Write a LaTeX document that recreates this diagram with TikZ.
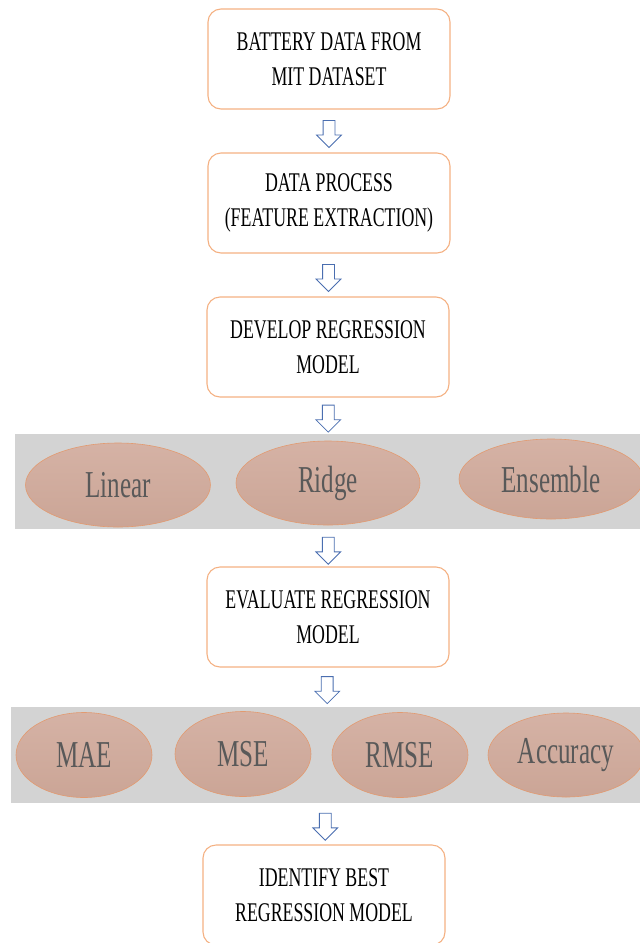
\documentclass[tikz,border=0pt]{standalone}
\usepackage{fontspec}
\setmainfont[FakeStretch=0.66]{Liberation Serif}
\usetikzlibrary{shapes.geometric,shapes.arrows}

\definecolor{boxline}{RGB}{244,177,131}
\definecolor{arrowline}{RGB}{74,110,176}
\definecolor{bandgray}{RGB}{211,211,211}
\definecolor{ovaltop}{RGB}{213,178,165}
\definecolor{ovalbot}{RGB}{203,165,150}
\definecolor{ovalline}{RGB}{226,154,112}
\definecolor{ovaltext}{RGB}{89,89,89}

\begin{document}
\begin{tikzpicture}[x=1pt,y=-1pt]
\tikzset{stepbox/.style = {shape=rectangle,draw=boxline,line width=1.1pt,rounded corners=13pt,minimum width=242pt,minimum height=100pt,align=center,font=\fontsize{27}{35}\selectfont}}
\tikzset{band/.style = {shape=rectangle,fill=bandgray,inner sep=0pt}}
\tikzset{oval/.style = {shape=ellipse,draw=ovalline,line width=0.6pt,top color=ovaltop,bottom color=ovalbot,inner sep=0pt,text=ovaltext,font=\fontsize{38}{40}\selectfont}}
\tikzset{flow/.style = {shape=single arrow,draw=arrowline,fill=white,line width=0.8pt,rotate=-90,minimum height=27pt,minimum width=24pt,inner sep=5.5pt,single arrow head extend=6.5pt,single arrow head indent=0pt}}
\useasboundingbox (0,0) rectangle (640,943);

% main steps
\node[stepbox] (data) at (329,59) {BATTERY DATA FROM\\MIT DATASET};
\node[stepbox] (proc) at (329,203) {DATA PROCESS\\(FEATURE EXTRACTION)};
\node[stepbox] (dev) at (328,347) {DEVELOP REGRESSION\\MODEL};
\node[stepbox] (eval) at (328,617) {EVALUATE REGRESSION\\MODEL};
\node[stepbox] (best) at (324,895) {IDENTIFY BEST\\REGRESSION MODEL};

% model choices
\node[band,minimum width=627pt,minimum height=95pt] (models) at (328.5,481.5) {};
\node[oval,minimum width=185pt,minimum height=84pt] (lin) at (118,485) {Linear};
\node[oval,minimum width=184pt,minimum height=84pt] (ridge) at (328,483) {Ridge};
\node[oval,minimum width=184pt,minimum height=80pt] (ens) at (551,479) {Ensemble};

% metrics
\node[band,minimum width=631pt,minimum height=96pt] (metrics) at (326.5,755) {};
\node[oval,minimum width=136pt,minimum height=85pt] (mae) at (84,755) {MAE};
\node[oval,minimum width=136pt,minimum height=85pt] (mse) at (243,754) {MSE};
\node[oval,minimum width=136pt,minimum height=85pt] (rmse) at (400,755) {RMSE};
\node[oval,minimum width=156pt,minimum height=84pt] (acc) at (566,755) {Accuracy};

\path (data) -- node[flow] {} (proc);
\path (proc) -- node[flow] {} (dev);
\path (dev) -- node[flow] {} (models);
\path (models) -- node[flow] {} (eval);
\path (eval) -- node[flow] {} (metrics);
\path (metrics) -- node[flow] {} (best);

\end{tikzpicture}
\end{document}
